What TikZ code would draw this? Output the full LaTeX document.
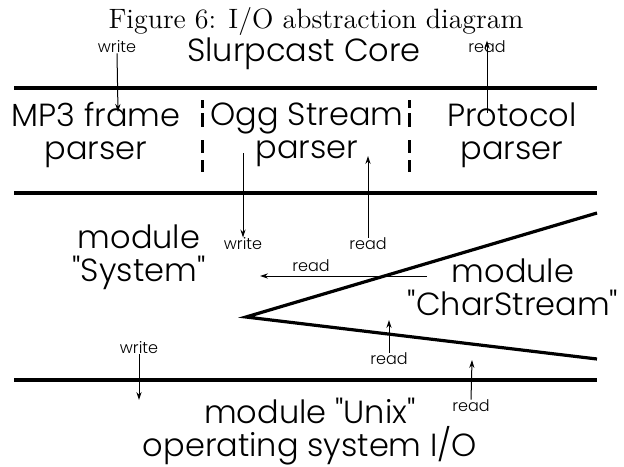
\documentclass[tikz,border=0pt]{standalone}
\usepackage{fontspec}
\setsansfont{Poppins}[UprightFont=* Light, Ligatures=TeXOff]
\usetikzlibrary{arrows.meta, positioning}
\tikzset{
    layer/.style={line width=1.6pt},
    sep/.style={line width=1.5pt, dash pattern=on 4pt off 2.5pt on 7pt off 6.5pt on 6.5pt off 3.5pt on 6pt off 10pt},
    part/.style={font=\sffamily\fontsize{16}{16.5}\selectfont, align=center, inner sep=0pt},
    io/.style={font=\sffamily\fontsize{8}{8}\selectfont, inner sep=0pt},
    ioarrow/.style={-{Stealth[length=4pt, width=2.6pt]}, line width=0.5pt}
}

\begin{document}
\begin{tikzpicture}[x=0.5pt, y=-0.5pt]
        \useasboundingbox (0,0) rectangle (624,466);
        % caption and top layer
        \node [font=\fontsize{14}{15}\selectfont, inner sep=0pt] (caption) at (316,21) {Figure 6: I/O abstraction diagram};
        \node [part] (core) at (304,54) {Slurpcast Core};
        \node [io] (coreW) at (117,47) {write};
        \node [io] (coreR) at (487,47) {read};
        % layers
        \coordinate (l1a) at (14,88);  \coordinate (l1b) at (597,88);
        \coordinate (l2a) at (14,193); \coordinate (l2b) at (597,193);
        \coordinate (l3a) at (14,380); \coordinate (l3b) at (597,380);
        \draw [layer] (l1a) -- (l1b);
        \draw [layer] (l2a) -- (l2b);
        \draw [layer] (l3a) -- (l3b);
        % parsers
        \node [part] (mp3) at (96,135) {MP3 frame\\parser};
        \node [part] (ogg) at (307,135) {Ogg Stream\\parser};
        \node [part] (proto) at (512,135) {Protocol\\parser};
        \coordinate (s1a) at (202,100); \coordinate (s1b) at (202,173);
        \coordinate (s2a) at (409,100); \coordinate (s2b) at (409,173);
        \draw [sep] (s1a) -- (s1b);
        \draw [sep] (s2a) -- (s2b);
        \coordinate (mp3In) at (118,112);
        \coordinate (protoOut) at (487,113);
        \draw [ioarrow] (coreW.south) -- (mp3In);
        \draw [ioarrow] (protoOut) -- (coreR.north);
        % modules
        \node [part] (system) at (139,257) {module\\"System"};
        \node [part] (charstream) at (513,287) {module\\"CharStream"};
        \node [part] (unix) at (310,432) {module "Unix"\\operating system I/O};
        \coordinate (t1) at (597,213); \coordinate (apex) at (246,317); \coordinate (t2) at (597,359);
        \draw [layer] (t1) -- (apex) -- (t2);
        % reads and writes
        \node [io] (oggW) at (243,244) {write};
        \node [io] (oggR) at (368,244) {read};
        \coordinate (oggOut) at (243,153);
        \coordinate (oggIn) at (368,156);
        \draw [ioarrow] (oggOut) -- (oggW.north);
        \draw [ioarrow] (oggR.north) -- (oggIn);
        \node [io] (sysR) at (311,266) {read};
        \coordinate (csOut) at (427,276); \coordinate (sysIn) at (260,276);
        \draw [ioarrow] (csOut) -- (sysIn);
        \node [io] (csR) at (389,359) {read};
        \coordinate (csIn) at (389,320);
        \draw [ioarrow] (csR.north) -- (csIn);
        \node [io] (unixW) at (139,348) {write};
        \coordinate (unixIn) at (139,400);
        \draw [ioarrow] (unixW.south) -- (unixIn);
        \node [io] (unixR) at (471,406) {read};
        \coordinate (unixOut) at (472,360);
        \draw [ioarrow] (unixR.north) -- (unixOut);
    \end{tikzpicture}
\end{document}
